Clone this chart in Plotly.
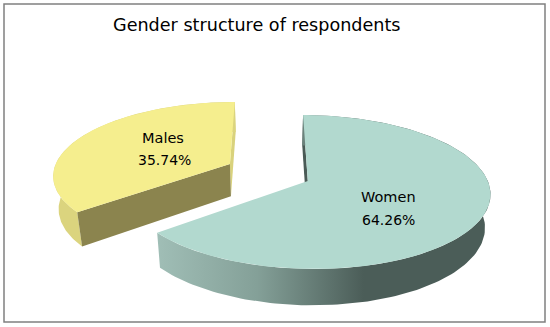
import numpy as np
import plotly.graph_objects as go

# Data
categories = ["Males", "Women"]
shares = [35.74, 64.26]
title_text = "Gender structure of respondents"

# Perspective model of the pie (pixel-like axes)
W, H = 550, 327
X0, Y0 = 270.0, 181.0
A, B, K = 180.0, 75.4, 0.143
START = 90.0
ORIGINS = {"Males": (-0.23, 0.233), "Women": (0.21, 0.0)}


def project(u, v, lower=False):
    d = 1 + K * v
    x = X0 + A * u / d
    y = Y0 - B * v / d
    if lower:
        x = X0 + 0.975 * (x - X0)
        y = y + 33.0 + 0.038 * (y - 181.0)
    return x, y


def arc(name, lower=False):
    i = categories.index(name)
    sweep = shares[i] * 3.6
    # Males run counter-clockwise from the start angle, Women clockwise.
    sign = 1 if name == "Males" else -1
    t = np.radians(START + sign * np.linspace(0, sweep, 160))
    ox, oy = ORIGINS[name]
    return project(ox + np.cos(t), oy + np.sin(t), lower)


def apex(name, lower=False):
    ox, oy = ORIGINS[name]
    return project(ox, oy, lower)


def poly(xs, ys, color=None, gradient=None):
    tr = dict(x=list(xs) + [xs[0]], y=list(ys) + [ys[0]], mode="lines",
              fill="toself", line=dict(width=0), hoverinfo="skip", showlegend=False)
    if gradient:
        tr["fillgradient"] = dict(type="horizontal", colorscale=gradient)
    else:
        tr["fillcolor"] = color
    return go.Scatter(**tr)


def wall(name, end, color):
    ax, ay = apex(name)
    lx, ly = apex(name, True)
    tx, ty = arc(name)
    bx, by = arc(name, True)
    return poly([ax, tx[end], bx[end], lx], [ay, ty[end], by[end], ly], color)


def side(name, color=None, gradient=None):
    tx, ty = arc(name)
    bx, by = arc(name, True)
    return poly(np.r_[tx, bx[::-1]], np.r_[ty, by[::-1]], color, gradient)


def top(name, color):
    ax, ay = apex(name)
    tx, ty = arc(name)
    return poly(np.r_[ax, tx], np.r_[ay, ty], color)


fig = go.Figure()
# Women
fig.add_trace(wall("Women", 0, "#4a5b56"))
fig.add_trace(side("Women", gradient=[[0, "#a0beb6"], [0.3, "#84a098"], [0.62, "#4b5d58"], [1, "#4b5d58"]]))
fig.add_trace(top("Women", "#b2d9cf"))
# Males
fig.add_trace(wall("Males", 0, "#d9d27c"))
fig.add_trace(side("Males", "#dbd47e"))
fig.add_trace(wall("Males", -1, "#8b844e"))
fig.add_trace(top("Males", "#f5ee8e"))

FONT = "DejaVu Sans"
anns = [
    dict(x=257, y=25, text=title_text, font=dict(size=17.6, color="#000000")),
    dict(x=163, y=138, text=categories[0], font=dict(size=14.5, color="#000000")),
    dict(x=164, y=160, text=f"{shares[0]:.2f}%", font=dict(size=14, color="#000000")),
    dict(x=388, y=197, text=categories[1], font=dict(size=14.5, color="#000000")),
    dict(x=388, y=220, text=f"{shares[1]:.2f}%", font=dict(size=14, color="#000000")),
]
for a in anns:
    a.update(xref="x", yref="y", showarrow=False, xanchor="center", yanchor="middle")

fig.update_layout(
    width=W, height=H, margin=dict(l=0, r=0, t=0, b=0),
    paper_bgcolor="white", plot_bgcolor="white",
    font=dict(family=FONT),
    xaxis=dict(range=[0, W], visible=False, fixedrange=True),
    yaxis=dict(range=[H, 0], visible=False, fixedrange=True),
    annotations=anns,
    shapes=[dict(type="rect", xref="x", yref="y", x0=4, y0=4, x1=545, y1=322,
                 line=dict(color="#808080", width=1.5), fillcolor="rgba(0,0,0,0)")],
)
fig.write_html("out.html", config={"displayModeBar": False},
               post_script="document.body.style.margin='0';document.body.style.overflow='hidden';")
